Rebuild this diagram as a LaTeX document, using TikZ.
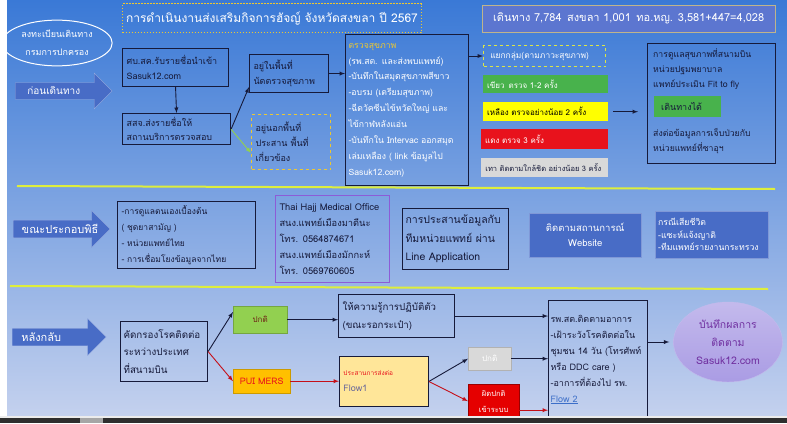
\documentclass[tikz,border=0pt]{standalone}
\usepackage{fontspec}
\setmainfont[Script=Thai]{Loma}
\usetikzlibrary{arrows,positioning,shapes.arrows,shapes.geometric,calc}

\definecolor{bgtop}{RGB}{58,121,214}
\definecolor{bgmid}{RGB}{128,165,226}
\definecolor{bgbot}{RGB}{196,209,238}
\definecolor{arrblue}{RGB}{72,108,198}
\definecolor{lineyel}{RGB}{222,238,60}
\definecolor{dashyel}{RGB}{236,200,50}
\definecolor{ink}{RGB}{22,26,58}
\definecolor{grn}{RGB}{72,178,76}
\definecolor{ylw}{RGB}{255,255,0}
\definecolor{rd}{RGB}{232,18,28}
\definecolor{gry}{RGB}{217,217,217}
\definecolor{lgreen}{RGB}{146,208,80}
\definecolor{orng}{RGB}{255,192,0}
\definecolor{lyel}{RGB}{255,230,153}
\definecolor{purp}{RGB}{140,92,215}
\definecolor{lav}{RGB}{170,156,228}
\definecolor{statfill}{RGB}{92,118,208}
\definecolor{linkblue}{RGB}{60,110,200}

\tikzset{
  txt/.style={font=\fontsize{9}{15}\selectfont},
  box/.style={txt, draw=ink, line width=1.1pt, anchor=north west, align=left,
    inner sep=4pt, text=ink},
  colbox/.style={font=\fontsize{8}{15}\selectfont, anchor=north west, align=left,
    inner sep=3pt},
  yelbox/.style={box, draw=dashyel, dashed},
  bluebox/.style={txt, anchor=north west, fill=arrblue, draw=arrblue!70!white,
    text=white, inner sep=4pt},
  blockarr/.style={single arrow, fill=arrblue, draw=arrblue!55!white, text=white,
    single arrow head extend=8.5pt, inner xsep=4pt, inner ysep=3pt,
    align=left, anchor=west},
  arr/.style={->, >=latex, line width=0.9pt, ink},
  redarr/.style={->, >=latex, line width=0.9pt, rd!85!black},
  sepline/.style={lineyel, line width=2pt},
}

\begin{document}
\begin{tikzpicture}[x=1pt, y=-1pt]
  \useasboundingbox (0,0) rectangle (787,423);
  % background
  \fill[white] (0,0) rectangle (787,423);
  \shade[top color=bgtop, middle color=bgmid, bottom color=bgbot] (7,0) rectangle (787,416);

  % heading
  \node[anchor=north west, draw=dashyel, line width=1.4pt, dash pattern=on 1.5pt off 1.5pt,
    minimum width=279, minimum height=29, text=white,
    font=\fontsize{12}{14}\selectfont] (title) at (122,3)
    {การดำเนินงานส่งเสริมกิจการฮัจญ์ จังหวัดสงขลา ปี 2567};
  \node[anchor=north west, fill=statfill, draw={rgb,255:red,190;green,180;blue,140},
    minimum width=293, minimum height=27, text=white,
    font=\fontsize{11}{13}\selectfont] (stat) at (482,5)
    {เดินทาง 7,784\enspace สงขลา 1,001\enspace ทอ.หญ. 3,581+447=4,028};
  \node[ellipse, draw=white, line width=1pt, minimum width=100, minimum height=40,
    text=white, align=center, font=\fontsize{9}{18}\selectfont] (regis) at (57,43)
    {ลงทะเบียนเดินทาง\\กรมการปกครอง};

  % before travel
  \node[blockarr, minimum width=36, minimum height=97, text width=71,
    font=\fontsize{10}{12}\selectfont] (before) at (15,91) {\ ก่อนเดินทาง};
  \node[box, minimum width=106, minimum height=38, text width=98] (sbsk) at (122,48)
    {ศบ.สค.รับรายชื่อนำเข้า\\Sasuk12.com};
  \node[box, minimum width=108, minimum height=30, text width=100,
    font=\fontsize{9}{14}\selectfont] (ssj) at (122,113)
    {สสจ.ส่งรายชื่อให้\\สถานบริการตรวจสอบ};
  \node[box, minimum width=79, minimum height=38, text width=71] (inarea) at (249,54)
    {อยู่ในพื้นที่\\นัดตรวจสุขภาพ};
  \node[yelbox, minimum width=79, minimum height=55, text width=71] (outarea) at (251,114)
    {อยู่นอกพื้นที่\\ประสาน พื้นที่\\เกี่ยวข้อง};
  \node[box, minimum width=123, minimum height=151, text width=117, inner xsep=3pt,
    text=white, font=\fontsize{8.7}{15.9}\selectfont] (checkup) at (345,34)
    {\textcolor{dashyel}{ตรวจสุขภาพ}\\(รพ.สต. และส่งพบแพทย์)\\-บันทึกในสมุดสุขภาพสีขาว\\
     -อบรม (เตรียมสุขภาพ)\\-ฉีดวัคซีนไข้หวัดใหญ่ และ\\ไข้กาฬหลังแอ่น\\
     -บันทึกใน Intervac ออกสมุด\\เล่มเหลือง ( link ข้อมูลไป\\Sasuk12.com)};
  \node[yelbox, draw={rgb,255:red,220;green,230;blue,70}, minimum width=122,
    minimum height=21, text width=114, text=white, line width=1pt,
    font=\fontsize{8.4}{10}\selectfont] (group) at (483,45)
    {\ แยกกลุ่ม(ตามภาวะสุขภาพ)};
  \node[colbox, fill=grn, text=white, minimum width=125, minimum height=18,
    text width=117, inner xsep=4pt] (green) at (483,75) {เขียว\enspace ตรวจ 1-2 ครั้ง};
  \node[colbox, fill=ylw, text=black, minimum width=125, minimum height=19,
    text width=117, inner xsep=4pt] (yellow) at (483,102) {เหลือง ตรวจอย่างน้อย 2 ครั้ง};
  \node[colbox, fill=rd, text=white, minimum width=127, minimum height=20,
    text width=119, inner xsep=4pt] (red) at (481,129) {แดง ตรวจ 3 ครั้ง};
  \node[colbox, fill=gry, text=ink, minimum width=127, minimum height=19,
    text width=121, font=\fontsize{7.5}{10}\selectfont] (gray) at (481,158)
    {\,เทา ติดตามใกล้ชิด อย่างน้อย 3 ครั้ง};
  \node[box, minimum width=128, minimum height=120] (airport) at (647,43) {};
  \node[colbox, text=ink, font=\fontsize{8.7}{15}\selectfont] (airtop) at (650,45)
    {การดูแลสุขภาพที่สนามบิน\\หน่วยปฐมพยาบาล\\แพทย์ประเมิน Fit to fly};
  \node[colbox, fill=grn, text=ink, minimum width=67, minimum height=21, text width=53,
    inner xsep=7pt, font=\fontsize{9}{11}\selectfont] (cango) at (654,96) {เดินทางได้};
  \node[colbox, text=ink, font=\fontsize{8.7}{15}\selectfont] (airbot) at (650,125)
    {ส่งต่อข้อมูลการเจ็บป่วยกับ\\หน่วยแพทย์ที่ซาอุฯ};

  \draw[arr] (sbsk.south) -- (ssj.north);
  \draw[arr] (ssj.east) -- ([yshift=6pt]inarea.south west);
  \draw[->, >=latex, line width=0.9pt, lgreen] (ssj.east) -- ([yshift=-11pt]outarea.west);
  \draw[arr] (inarea.east) -- (inarea.east -| checkup.west);
  \draw[arr] (group.west -| checkup.east) -- (group.west);
  \draw[arr] ([xshift=5pt]yellow.east) -- ([xshift=-9pt]airport.west |- yellow.east);

  \draw[sepline] (17,186) -- (775,189);

  % during hajj
  \node[blockarr, minimum width=37, minimum height=97, text width=71,
    font=\fontsize{11}{13}\selectfont] (during) at (13,229) {ขณะประกอบพิธี};
  \node[box, minimum width=138, minimum height=66, text width=130,
    font=\fontsize{8.5}{16}\selectfont] (selfcare) at (117,201)
    {-การดูแลตนเองเบื้องต้น\\( ชุดยาสามัญ )\\- หน่วยแพทย์ไทย\\- การเชื่อมโยงข้อมูลจากไทย};
  \node[box, draw=purp, line width=1pt, minimum width=114, minimum height=87,
    text width=106, font=\fontsize{9.3}{16}\selectfont] (hajj) at (275,195)
    {Thai Hajj Medical Office\\สนง.แพทย์เมืองมาดีนะ\\โทร. 0564874671\\
     สนง.แพทย์เมืองมักกะห์\\โทร. 0569760605};
  \node[box, minimum width=106, minimum height=61, text width=100, inner xsep=3pt,
    font=\fontsize{10.5}{18.5}\selectfont] (lineapp) at (402,208)
    {การประสานข้อมูลกับ\\ทีมหน่วยแพทย์ ผ่าน\\Line Application};
  \node[bluebox, minimum width=112, minimum height=44, align=center,
    font=\fontsize{9.5}{15}\selectfont] (web) at (529,213)
    {ติดตามสถานการณ์\\Website};
  \node[bluebox, minimum width=113, minimum height=47, text width=107, inner xsep=3pt,
    align=left, font=\fontsize{8.7}{12.5}\selectfont] (death) at (655,211)
    {กรณีเสียชีวิต\\-แซะห์แจ้งญาติ\\-ทีมแพทย์รายงานกระทรวง};

  \draw[sepline] (10,286) -- (768,289);

  % after return
  \node[blockarr, minimum width=37, minimum height=94, text width=67,
    font=\fontsize{11}{13}\selectfont] (after) at (12,337) {หลังกลับ};
  \node[box, minimum width=87, minimum height=60, text width=81, inner xsep=3pt,
    font=\fontsize{9.8}{17.5}\selectfont] (screen) at (120,321)
    {คัดกรองโรคติดต่อ\\ระหว่างประเทศ\\ที่สนามบิน};
  \node[colbox, fill=lgreen, draw=lgreen!80!black, minimum width=54, minimum height=27,
    align=center, text={rgb,255:red,110;green,30;blue,20}] (normal) at (233,306) {ปกติ};
  \node[colbox, fill=orng, draw=orng!80!black, minimum width=57, minimum height=24,
    align=center, text=rd, font=\fontsize{9}{11}\selectfont] (pui) at (233,369) {PUI MERS};
  \node[box, minimum width=116, minimum height=43, text width=108,
    font=\fontsize{9.7}{18}\selectfont] (educate) at (338,294)
    {ให้ความรู้การปฏิบัติตัว\\(ขณะรอกระเป๋า)};
  \node[box, fill=lyel, line width=0.9pt, minimum width=89, minimum height=50,
    text width=81, font=\fontsize{6.5}{16}\selectfont] (refer) at (339,356)
    {\textcolor{rd}{ประสานการส่งต่อ}\\\textcolor{gray!80!blue}{\fontsize{9}{16}\selectfont Flow1}};
  \node[colbox, fill=gry, draw=gray!60, minimum width=43, minimum height=23,
    align=center, text=white] (normal2) at (468,347) {ปกติ};
  \node[colbox, fill=red!90!black, draw=red!60!black, minimum width=51, minimum height=34,
    align=center, text=white, font=\fontsize{7.5}{16}\selectfont] (abnormal) at (468,384)
    {ผิดปกติ\\เข้าระบบ};
  \node[box, minimum width=99, minimum height=118, text width=95, inner xsep=2pt,
    font=\fontsize{9}{16}\selectfont] (follow) at (548,300)
    {รพ.สต.ติดตามอาการ\\-เฝ้าระวังโรคติดต่อใน\\ชุมชน 14 วัน (โทรศัพท์\\หรือ DDC care )\\
     -อาการที่ต้องไป รพ.\\\textcolor{linkblue}{\underline{Flow 2}}};
  \node[ellipse, top color=lav!70!white, bottom color=lav, draw=lav!70!white,
    minimum width=109, minimum height=80, align=center,
    text={rgb,255:red,112;green,48;blue,160}, font=\fontsize{10.5}{18}\selectfont] (record)
    at (728,342) {บันทึกผลการ\\ติดตาม\\Sasuk12.com};

  \draw[arr] (screen.east) -- ([yshift=-6pt]normal.north west);
  \draw[redarr] (screen.east) -- (pui.west);
  \draw[arr] (normal.east) -- (normal.east -| educate.west);
  \draw[arr] (educate.east) -- (educate.east -| follow.west);
  \draw[redarr] (pui.east) -- (pui.east -| refer.west);
  \draw[arr] (refer.east) -- (normal2.west);
  \draw[redarr] (refer.east) -- (abnormal.west);
  \draw[arr] (normal2.east) -- (normal2.east -| follow.west);
  \draw[redarr] ([yshift=-9pt]abnormal.east) -- ([yshift=-9pt]abnormal.east -| follow.west);
  \draw[arr] (follow.east |- record.west) -- ([xshift=-4pt]record.west);

  % screen edge
  \fill[white!85!gray] (0,416) rectangle (787,418);
  \fill[black!82] (0,418) rectangle (787,423);
  \fill[gray!70] (80,418) rectangle (103,423);
\end{tikzpicture}
\end{document}
